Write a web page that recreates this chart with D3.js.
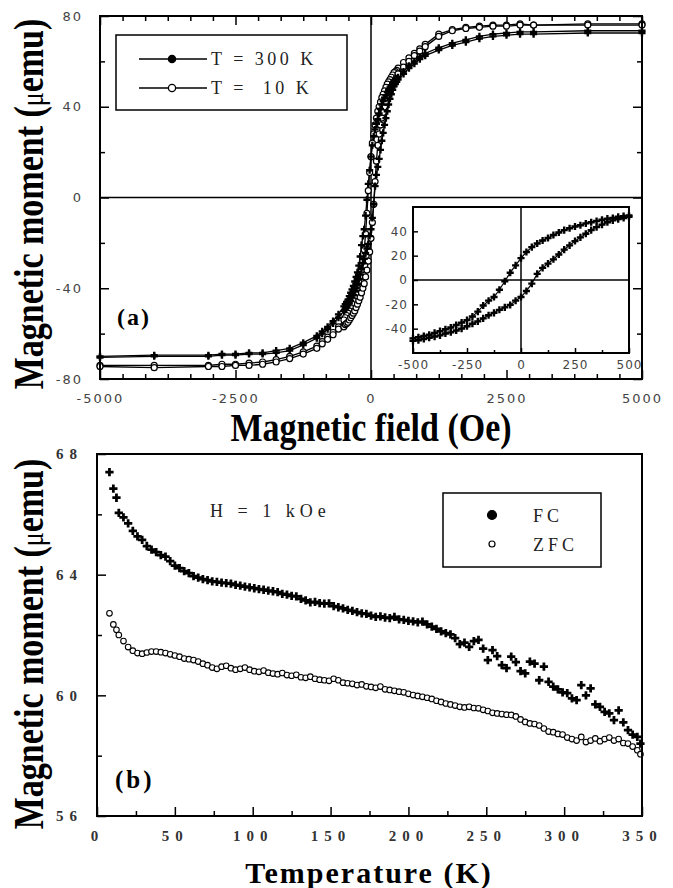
<!DOCTYPE html>
<html><head><meta charset="utf-8">
<script src="https://cdn.jsdelivr.net/npm/d3@7"></script>
<style>
body{margin:0;background:#fff;}
svg{display:block;}
text{white-space:pre;}
.axA text{font-family:"DejaVu Sans",sans-serif;font-size:13px;fill:#444;letter-spacing:2px;}
.axI text{font-family:"DejaVu Sans",sans-serif;font-size:12px;fill:#444;letter-spacing:1px;}
.axB text{font-family:"Liberation Serif",serif;font-weight:bold;font-size:15px;fill:#333;letter-spacing:6px;}
.title{font-family:"Liberation Serif",serif;font-weight:bold;fill:#000;}
.leg{font-family:"Liberation Serif",serif;font-size:18px;fill:#222;}
</style></head><body>
<svg id="c" width="673" height="888"></svg>
<script>
// ---------- Panel (a): M vs H hysteresis ----------
const fieldOe = [-5000,-4000,-3000,-2750,-2500,-2250,-2000,-1750,-1500,-1250,-1000,-900,-800,-700,-600,
  -500,-475,-450,-425,-400,-375,-350,-325,-300,-275,-250,-225,-200,-175,-150,-125,-100,-75,-50,-25,
  0,25,50,75,100,125,150,175,200,225,250,275,300,325,350,375,400,425,450,475,500,
  600,700,800,900,1000,1250,1500,1750,2000,2250,2500,2750,3000,4000,5000];
const m300Down = [-70,-69.5,-69.5,-69,-69,-68.5,-68.5,-67.5,-66.5,-64,-61,-59,-57,-54.5,-51.5,
  -48,-47,-46,-45,-43.5,-42,-40.5,-39,-37,-35,-33,-30,-26,-21,-17,-14,-8,-1,6,12,
  18,23,27,30,32.5,34.5,37,39,41,42.5,44,45,46.5,47.5,48.5,49.5,50.5,51,52,52.5,53,
  55.5,58,60,62,63.5,66,68,69.5,71,72,72.5,73,73,73.5,73.5];
const m300Up = [-70.5,-70,-70,-69.5,-69.5,-69,-69,-68.5,-67.5,-65,-62,-60,-58,-55.5,-53,
  -50,-49.5,-48.5,-47.5,-46.5,-45.5,-44,-43,-41.5,-40,-38,-36,-34,-31.5,-29,-27,-24.5,-22.5,-20.5,-17,
  -14,-9,-3,5,10,13.5,17,21,25,28.5,32,35,38,41,43.5,45.5,47.5,49,50,51,52,
  54.5,57,59,61,62.5,65,67,68.5,70,71,71.5,72,72,72.5,72.5];
const m10Down = [-74,-74,-74,-73.5,-73.5,-73,-72.5,-71.5,-70,-68,-65.5,-63.5,-61.5,-59.5,-57,
  -54,-53,-52,-51,-50,-48.5,-47,-45.5,-44,-42,-40,-37.5,-35,-32,-28,-23,-16,-7,3,11,
  18,24,28,32,35,38,40,42,44,45.5,47,48.5,50,51,52,53,54,55,55.5,56,57,
  59.5,61.5,63.5,65.5,67.5,72,74,75,75.5,76,76,76.5,76,76.5,76.5];
const m10Up = [-74.5,-75,-74.5,-74.5,-74,-74,-73.5,-72.5,-71,-69,-66.5,-64.5,-62.5,-60.5,-58,
  -57,-56,-55.5,-55,-54,-53,-52,-51,-50,-48.5,-47,-45.5,-44,-42,-40,-38,-35,-32,-28,-24,
  -18,-11,-3,7,16,23,28,32,35,37.5,40,42,44,45.5,47,48.5,50,51,52,53,54.5,
  57.5,60,62.5,64.5,66.5,71,73.5,74.5,75,75.5,75.5,76,76,76,76];
const fieldTicks = [-5000,-2500,0,2500,5000];
const momentTicksA = [-80,-40,0,40,80];
const momentMinorA = [-60,-20,20,60];
const insetFieldTicks = [-500,-250,0,250,500];
const insetFieldMinor = [-375,-125,125,375];
const insetMomentTicks = [-40,-20,0,20,40];
const legendA = ["T = 300 K","T =  10 K"];

// ---------- Panel (b): M vs T ----------
const tempK = [8,10.5,12.5,14,17,20,23,26,29,32,
  35,38,41,44,47,50,53,56,59,62,
  65,68,71,74,77,80,83,86,89,92,
  95,98,101,104,107,110,113,116,119,122,
  125,128,131,134,137,140,143,146,149,152,
  155,158,161,164,167,170,173,176,179,182,
  185,188,191,194,197,200,203,206,209,212,
  215,218,221,224,227,230,233,236,239,242,
  245,248,251,254,257,260,263,266,269,272,
  275,278,281,284,287,290,293,296,299,302,
  305,308,311,314,317,320,323,326,329,332,
  335,338,341,344,347,349];
const mFC = [67.4,66.85,66.55,66.05,65.9,65.7,65.45,65.27,65.15,64.95,
  64.83,64.75,64.65,64.6,64.45,64.3,64.22,64.12,64.05,63.95,
  63.9,63.85,63.82,63.78,63.76,63.74,63.72,63.7,63.66,63.64,
  63.6,63.58,63.55,63.52,63.5,63.47,63.45,63.42,63.36,63.34,
  63.3,63.28,63.2,63.15,63.08,63.1,63.06,63.04,63.05,62.96,
  62.92,62.88,62.83,62.8,62.76,62.72,62.7,62.64,62.6,62.62,
  62.58,62.56,62.6,62.52,62.5,62.47,62.45,62.42,62.44,62.35,
  62.28,62.2,62.12,62.06,62.02,61.9,61.7,61.75,61.61,61.8,
  61.84,61.55,61.17,61.5,61.3,61.0,60.9,61.28,61.1,60.8,
  60.73,61.12,61.05,60.5,60.95,60.45,60.29,60.2,60.1,60.07,
  59.9,59.84,60.34,60.0,60.23,59.7,59.62,59.45,59.4,59.18,
  59.5,59.1,58.85,58.7,58.62,58.4];
const mZFC = [62.72,62.35,62.17,62.0,61.8,61.6,61.48,61.4,61.38,61.42,
  61.45,61.45,61.43,61.4,61.36,61.32,61.28,61.22,61.2,61.17,
  61.12,61.05,61.0,60.92,60.88,60.95,60.98,60.9,60.85,60.88,
  60.92,60.85,60.8,60.78,60.82,60.75,60.72,60.7,60.74,60.67,
  60.65,60.68,60.6,60.58,60.62,60.55,60.52,60.5,60.48,60.55,
  60.5,60.42,60.4,60.38,60.34,60.36,60.3,60.28,60.25,60.29,
  60.2,60.18,60.15,60.12,60.1,60.05,60.01,59.98,59.95,59.92,
  59.88,59.82,59.78,59.73,59.7,59.66,59.62,59.6,59.62,59.58,
  59.57,59.52,59.48,59.42,59.4,59.38,59.36,59.35,59.3,59.2,
  59.12,59.07,59.05,59.0,58.9,58.8,58.78,58.72,58.7,58.6,
  58.55,58.5,58.62,58.45,58.5,58.57,58.48,58.55,58.6,58.5,
  58.55,58.42,58.4,58.3,58.18,58.05];
const tempTicks = [0,50,100,150,200,250,300,350];
const tempMinor = [25,75,125,175,225,275,325];
const momentTicksB = [56,60,64,68];
const momentMinorB = [58,62,66];
const legendB = ["FC","ZFC"];

// ---------- drawing ----------
const svg = d3.select("#c");
const crossSym = s => d3.symbol().type(d3.symbolCross).size(s)();

function cleanAxis(g, cls, w){
  g.attr("class", cls);
  g.select(".domain").remove();
  g.selectAll(".tick line").attr("stroke","#000").attr("stroke-width", w||1.5);
  return g;
}
function noLabels(g){ g.selectAll("text").remove(); return g; }

// ===== Panel A =====
const A = {l:100, r:642, t:16, b:379};
const xA = d3.scaleLinear().domain([-5000,5000]).range([A.l,A.r]);
const yA = d3.scaleLinear().domain([-80,80]).range([A.b,A.t]);
const fieldMinorA = d3.range(-5000, 5001, 2500/6).filter(v => !fieldTicks.some(t => Math.abs(t-v) < 1));

svg.append("line").attr("x1",A.l).attr("x2",A.r).attr("y1",yA(0)).attr("y2",yA(0)).attr("stroke","#000").attr("stroke-width",1.5);
svg.append("line").attr("x1",xA(0)).attr("x2",xA(0)).attr("y1",A.t).attr("y2",A.b).attr("stroke","#000").attr("stroke-width",1.5);

cleanAxis(svg.append("g").attr("transform",`translate(0,${A.b})`)
  .call(d3.axisBottom(xA).tickValues(fieldTicks).tickSize(-9).tickPadding(15).tickFormat(d=>String(d))), "axA");
noLabels(cleanAxis(svg.append("g").attr("transform",`translate(0,${A.b})`)
  .call(d3.axisBottom(xA).tickValues(fieldMinorA).tickSize(-5)), "axA"));
noLabels(cleanAxis(svg.append("g").attr("transform",`translate(0,${A.t})`)
  .call(d3.axisTop(xA).tickValues(fieldTicks).tickSize(-9)), "axA"));
noLabels(cleanAxis(svg.append("g").attr("transform",`translate(0,${A.t})`)
  .call(d3.axisTop(xA).tickValues(fieldMinorA).tickSize(-5)), "axA"));
cleanAxis(svg.append("g").attr("transform",`translate(${A.l},0)`)
  .call(d3.axisLeft(yA).tickValues(momentTicksA).tickSize(-9).tickPadding(17).tickFormat(d=>String(d))), "axA");
noLabels(cleanAxis(svg.append("g").attr("transform",`translate(${A.l},0)`)
  .call(d3.axisLeft(yA).tickValues(momentMinorA).tickSize(-5)), "axA"));
noLabels(cleanAxis(svg.append("g").attr("transform",`translate(${A.r},0)`)
  .call(d3.axisRight(yA).tickValues(momentTicksA).tickSize(-9)), "axA"));
noLabels(cleanAxis(svg.append("g").attr("transform",`translate(${A.r},0)`)
  .call(d3.axisRight(yA).tickValues(momentMinorA).tickSize(-5)), "axA"));

const lineA = d3.line().x(d=>xA(d[0])).y(d=>yA(d[1]));
const zipA = m => fieldOe.map((h,i)=>[h,m[i]]);
const branches10 = [zipA(m10Down).slice().reverse(), zipA(m10Up)];
const branches300 = [zipA(m300Down).slice().reverse(), zipA(m300Up)];
const gA = svg.append("g");
[...branches10, ...branches300].forEach(b=>{
  gA.append("path").attr("d", lineA(b)).attr("fill","none").attr("stroke","#000").attr("stroke-width",1.3);
});
branches10.forEach(b=>{
  gA.selectAll(null).data(b).join("circle")
    .attr("cx",d=>xA(d[0])).attr("cy",d=>yA(d[1])).attr("r",3)
    .attr("fill","#fff").attr("stroke","#000").attr("stroke-width",1.2);
});
branches300.forEach(b=>{
  gA.selectAll(null).data(b).join("path")
    .attr("transform",d=>`translate(${xA(d[0])},${yA(d[1])})`).attr("d",crossSym(28)).attr("fill","#000");
});

svg.append("rect").attr("x",A.l).attr("y",A.t).attr("width",A.r-A.l).attr("height",A.b-A.t)
  .attr("fill","none").attr("stroke","#000").attr("stroke-width",2);

// legend A
svg.append("rect").attr("x",116).attr("y",35).attr("width",231).attr("height",75)
  .attr("fill","#fff").attr("stroke","#000").attr("stroke-width",1.5);
legendA.forEach((lab,i)=>{
  const yy = 59 + i*29;
  svg.append("line").attr("x1",139).attr("x2",207).attr("y1",yy).attr("y2",yy).attr("stroke","#000").attr("stroke-width",1.5);
  svg.append("circle").attr("cx",172).attr("cy",yy).attr("r",3.6)
    .attr("fill", i===0 ? "#000" : "#fff").attr("stroke","#000").attr("stroke-width",1.3);
  svg.append("text").attr("class","leg").attr("x",211).attr("y",yy+6).attr("letter-spacing",3.5).text(lab);
});

svg.append("text").attr("class","title").attr("x",117).attr("y",325).attr("font-size",24).attr("letter-spacing",2).text("(a)");

// inset
const I = {l:413, r:629, t:207, b:353};
const xI = d3.scaleLinear().domain([-500,500]).range([I.l,I.r]);
const yI = d3.scaleLinear().domain([-60,60]).range([I.b,I.t]);
svg.append("rect").attr("x",I.l).attr("y",I.t).attr("width",I.r-I.l).attr("height",I.b-I.t).attr("fill","#fff");
svg.append("line").attr("x1",I.l).attr("x2",I.r).attr("y1",yI(0)).attr("y2",yI(0)).attr("stroke","#000").attr("stroke-width",1.5);
svg.append("line").attr("x1",xI(0)).attr("x2",xI(0)).attr("y1",I.t).attr("y2",I.b).attr("stroke","#000").attr("stroke-width",1.5);
const inInset = b => b.filter(d=>Math.abs(d[0])<=500);
const lineI = d3.line().x(d=>xI(d[0])).y(d=>yI(d[1]));
branches300.forEach(b=>{
  const bb = inInset(b);
  svg.append("path").attr("d",lineI(bb)).attr("fill","none").attr("stroke","#000").attr("stroke-width",1.2);
  svg.selectAll(null).data(bb).join("path")
    .attr("transform",d=>`translate(${xI(d[0])},${yI(d[1])})`).attr("d",crossSym(28)).attr("fill","#000");
});
cleanAxis(svg.append("g").attr("transform",`translate(0,${I.b})`)
  .call(d3.axisBottom(xI).tickValues(insetFieldTicks).tickSize(-5).tickPadding(7).tickFormat(d=>String(d))), "axI");
noLabels(cleanAxis(svg.append("g").attr("transform",`translate(0,${I.b})`)
  .call(d3.axisBottom(xI).tickValues(insetFieldMinor).tickSize(-3)), "axI"));
cleanAxis(svg.append("g").attr("transform",`translate(${I.l},0)`)
  .call(d3.axisLeft(yI).tickValues(insetMomentTicks).tickSize(-5).tickPadding(5).tickFormat(d=>String(d))), "axI");
svg.append("rect").attr("x",I.l).attr("y",I.t).attr("width",I.r-I.l).attr("height",I.b-I.t)
  .attr("fill","none").attr("stroke","#000").attr("stroke-width",2);

svg.append("text").attr("class","title").attr("text-anchor","middle").attr("font-size",34)
  .attr("transform","translate(371,441) scale(1,1.15)").text("Magnetic field (Oe)");
function yTitle(cx, cy){
  const t = svg.append("text").attr("class","title").attr("text-anchor","middle").attr("font-size",34)
    .attr("transform",`translate(${cx},${cy}) rotate(-90) scale(1,1.25)`);
  t.append("tspan").text("Magnetic moment (");
  t.append("tspan").attr("font-weight","normal").attr("font-size",26).text("μ");
  t.append("tspan").text("emu)");
}
yTitle(43, 204);

// ===== Panel B =====
const B = {l:97, r:642, t:454, b:816};
const xB = d3.scaleLinear().domain([0,350]).range([B.l,B.r]);
const yB = d3.scaleLinear().domain([56,68]).range([B.b,B.t]);
cleanAxis(svg.append("g").attr("transform",`translate(0,${B.b})`)
  .call(d3.axisBottom(xB).tickValues(tempTicks).tickSize(-9).tickPadding(14).tickFormat(d=>String(d))), "axB");
noLabels(cleanAxis(svg.append("g").attr("transform",`translate(0,${B.b})`)
  .call(d3.axisBottom(xB).tickValues(tempMinor).tickSize(-5)), "axB"));
cleanAxis(svg.append("g").attr("transform",`translate(${B.l},0)`)
  .call(d3.axisLeft(yB).tickValues(momentTicksB).tickSize(-9).tickPadding(14).tickFormat(d=>String(d))), "axB");
noLabels(cleanAxis(svg.append("g").attr("transform",`translate(${B.l},0)`)
  .call(d3.axisLeft(yB).tickValues(momentMinorB).tickSize(-5)), "axB"));

const gB = svg.append("g");
gB.selectAll(null).data(tempK.map((t,i)=>[t,mZFC[i]])).join("circle")
  .attr("cx",d=>xB(d[0])).attr("cy",d=>yB(d[1])).attr("r",2.8)
  .attr("fill","#fff").attr("stroke","#000").attr("stroke-width",1.1);
gB.selectAll(null).data(tempK.map((t,i)=>[t,mFC[i]])).join("path")
  .attr("transform",d=>`translate(${xB(d[0])},${yB(d[1])})`).attr("d",crossSym(38)).attr("fill","#000");

svg.append("rect").attr("x",B.l).attr("y",B.t).attr("width",B.r-B.l).attr("height",B.b-B.t)
  .attr("fill","none").attr("stroke","#000").attr("stroke-width",2);

svg.append("rect").attr("x",443).attr("y",493).attr("width",158).attr("height",74)
  .attr("fill","#fff").attr("stroke","#000").attr("stroke-width",1.5);
legendB.forEach((lab,i)=>{
  const yy = 515 + i*29;
  svg.append("circle").attr("cx",492).attr("cy",yy).attr("r", i===0 ? 4.5 : 3)
    .attr("fill", i===0 ? "#000" : "#fff").attr("stroke","#000").attr("stroke-width",1.2);
  svg.append("text").attr("class","leg").attr("x",533).attr("y",yy+7).attr("letter-spacing",4).text(lab);
});
svg.append("text").attr("class","leg").attr("x",210).attr("y",517).attr("font-size",17).attr("letter-spacing",5).text("H = 1 kOe");
svg.append("text").attr("class","title").attr("x",115).attr("y",788).attr("font-size",25).attr("letter-spacing",3).text("(b)");

svg.append("text").attr("class","title").attr("text-anchor","middle").attr("font-size",30).attr("letter-spacing",2)
  .attr("x",369).attr("y",883).text("Temperature (K)");
yTitle(43, 644);
</script>
</body></html>
